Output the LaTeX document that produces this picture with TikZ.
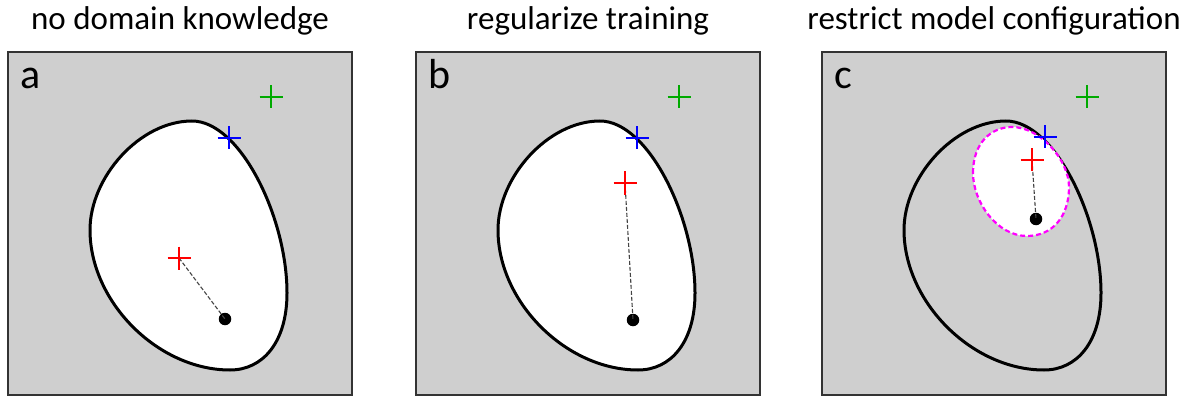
\documentclass[tikz,border=0pt]{standalone}
\usepackage{fontspec}
\setmainfont{Carlito}
\usepackage{tikz}
\usetikzlibrary{calc,positioning}
\definecolor{panelgray}{HTML}{CFCFCF}
\definecolor{frameline}{HTML}{333333}
\definecolor{plusred}{HTML}{FF0000}
\definecolor{plusblue}{HTML}{0000FF}
\definecolor{plusgreen}{HTML}{00AA00}
\definecolor{limitpink}{HTML}{FF00FF}
\definecolor{pathgray}{HTML}{444444}
\newcommand{\blobshape}{(82,178) .. controls (82,125) and (132,69) .. (184,69) .. controls (232,69) and (279,165) .. (279,241) .. controls (279,290) and (255,318) .. (222,318) .. controls (150,318) and (82,250) .. (82,178) -- cycle}
\newcommand{\limitshape}{(151,121) .. controls (151,90) and (170,75) .. (190,75) .. controls (218,75) and (247,108) .. (247,135) .. controls (247,165) and (230,184) .. (205,184) .. controls (175,184) and (151,150) .. (151,121) -- cycle}
\newcommand{\plusat}[2]{\draw[plusline, #2] ($(#1)+(-11.5,0)$) -- ($(#1)+(11.5,0)$) ($(#1)+(0,-11.5)$) -- ($(#1)+(0,11.5)$);}

\begin{document}
\begin{tikzpicture}[x=1pt, y=-1pt,
  panel/.style={draw=frameline, line width=1.5pt, fill=panelgray, minimum width=344pt, minimum height=343pt, inner sep=0pt},
  region/.style={line width=3pt, line join=round},
  plusline/.style={line width=2.6pt},
  tag/.style={anchor=base west, inner sep=0pt, font=\fontsize{42}{50}\selectfont},
  heading/.style={anchor=base, inner sep=0pt, font=\fontsize{33}{40}\selectfont},
  solution/.style={circle, fill=black, minimum size=12.5pt, inner sep=0pt},
  gap/.style={draw=pathgray, line width=1.1pt, dash pattern=on 4pt off 2pt}]
  \useasboundingbox (0,0) rectangle (1190,398);

  % panel a
  \begin{scope}[shift={(8,52)}]
    \node[panel] (boxA) at (172,171.5) {};
    \node[heading] (titleA) at (172,-22) {no domain knowledge};
    \filldraw[region, fill=white] \blobshape;
    \node[tag] (tagA) at (12,37) {a};
    \coordinate (greenA) at (263,45);
    \coordinate (blueA) at (221,86);
    \coordinate (redA) at (171,206);
    \node[solution] (dotA) at (217,267) {};
    \draw[gap] (redA) -- (dotA.center);
    \plusat{greenA}{plusgreen}
    \plusat{blueA}{plusblue}
    \plusat{redA}{plusred}
  \end{scope}

  % panel b
  \begin{scope}[shift={(416,52)}]
    \node[panel] (boxB) at (172,171.5) {};
    \node[heading] (titleB) at (172,-22) {regularize training};
    \filldraw[region, fill=white] \blobshape;
    \node[tag] (tagB) at (12,37) {b};
    \coordinate (greenB) at (263,45);
    \coordinate (blueB) at (221,86);
    \coordinate (redB) at (209,131);
    \node[solution] (dotB) at (217,268) {};
    \draw[gap] (redB) -- (dotB.center);
    \plusat{greenB}{plusgreen}
    \plusat{blueB}{plusblue}
    \plusat{redB}{plusred}
  \end{scope}

  % panel c
  \begin{scope}[shift={(822,52)}]
    \node[panel] (boxC) at (172,171.5) {};
    \node[heading] (titleC) at (172,-22) {restrict model configuration};
    \draw[region] \blobshape;
    \filldraw[draw=limitpink, fill=white, line width=2.2pt, dash pattern=on 5pt off 3pt] \limitshape;
    \node[tag] (tagC) at (12,37) {c};
    \coordinate (greenC) at (265,45);
    \coordinate (blueC) at (223,85);
    \coordinate (redC) at (210,108);
    \node[solution] (dotC) at (214,167) {};
    \draw[gap] (redC) -- (dotC.center);
    \plusat{greenC}{plusgreen}
    \plusat{blueC}{plusblue}
    \plusat{redC}{plusred}
  \end{scope}
\end{tikzpicture}
\end{document}
